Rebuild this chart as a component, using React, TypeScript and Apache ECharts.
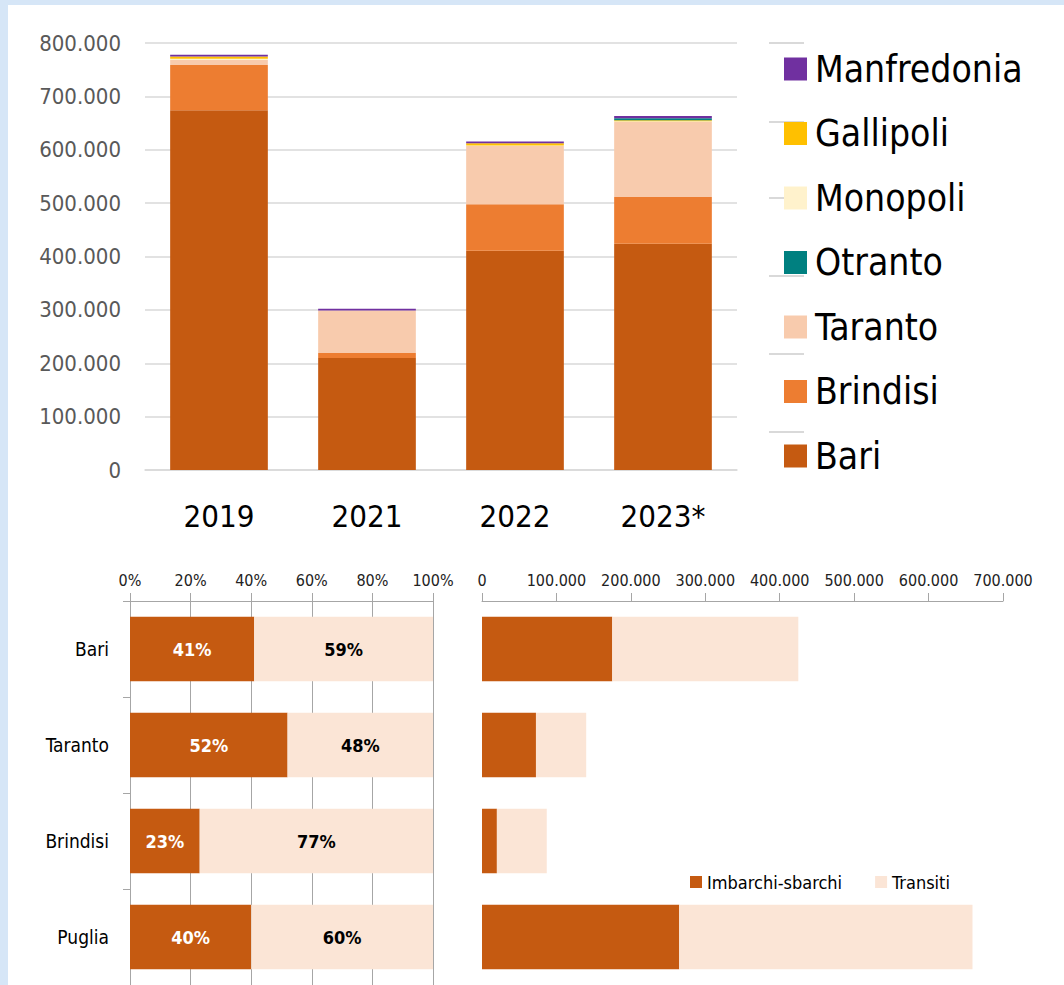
import React, { useEffect, useRef } from "react";
import * as echarts from "echarts";

// ---- Top chart data ----
const years = ["2019", "2021", "2022", "2023*"];
const bari = [674000, 210000, 411000, 424000];
const brindisi = [85000, 9000, 87000, 87500];
const taranto = [9000, 80000, 109000, 141000];
const monopoli = [2500, 0, 1000, 1000];
const gallipoli = [4000, 0, 4000, 2000];
const otranto = [0, 0, 0, 3500];
const manfredonia = [3500, 3000, 3500, 4000];
const topLegendOrder = ["Manfredonia", "Gallipoli", "Monopoli", "Otranto", "Taranto", "Brindisi", "Bari"];

// ---- Bottom charts data ----
const ports = ["Bari", "Taranto", "Brindisi", "Puglia"];
const pctImbarchi = [41, 52, 23, 40];
const pctTransiti = [59, 48, 77, 60];
const absImbarchi = [175000, 72500, 20000, 265000];
const absTransiti = [250000, 67500, 67000, 394000];

const FONT = "'Liberation Sans Narrow', 'Arial Narrow', 'DejaVu Sans Condensed', 'Liberation Sans', sans-serif";

const fmt = (v: number) => String(v).replace(/\B(?=(\d{3})+(?!\d))/g, ".");

const C = {
  bari: "#C55A11",
  brindisi: "#ED7D31",
  taranto: "#F8CBAD",
  otranto: "#008080",
  monopoli: "#FFF2CC",
  gallipoli: "#FFC000",
  manfredonia: "#7030A0",
  imb: "#C55A11",
  tra: "#FBE5D6",
};

export default function App() {
  const ref = useRef<HTMLDivElement>(null);
  useEffect(() => {
    if (!ref.current) return;
    const chart = echarts.init(ref.current, undefined, { renderer: "svg" });
    const topSeries = (name: string, data: number[], color: string) => ({
      name,
      type: "bar",
      stack: "top",
      xAxisIndex: 0,
      yAxisIndex: 0,
      barWidth: "66%",
      data,
      itemStyle: { color },
    });
    const shortLines = [43, 122, 198, 276, 354, 432].map((y) => ({
      type: "line",
      z: -1,
      shape: { x1: 769, y1: y, x2: 804, y2: y },
      style: { stroke: "#d9d9d9", lineWidth: 2 },
    }));
    const option: any = {
      animation: false,
      textStyle: { fontFamily: FONT },
      graphic: shortLines,
      legend: [
        {
          data: topLegendOrder,
          orient: "vertical",
          left: 784,
          top: 49,
          itemWidth: 23,
          itemHeight: 23,
          itemGap: 24.5,
          padding: 0,
          icon: "rect",
          textStyle: { fontSize: 37, color: "#000", fontFamily: FONT, lineHeight: 40, padding: [0, 0, 0, 3] },
        },
        {
          data: ["Imbarchi-sbarchi", "Transiti"],
          orient: "horizontal",
          left: 690,
          top: 873,
          itemWidth: 12,
          itemHeight: 12,
          itemGap: 33,
          padding: 0,
          icon: "rect",
          textStyle: { fontSize: 18, color: "#000", fontFamily: FONT },
        },
      ],
      grid: [
        { left: 145, top: 43, width: 592, height: 427 },
        { left: 130, top: 601, width: 303, height: 386 },
        { left: 482, top: 601, width: 521, height: 386 },
      ],
      xAxis: [
        {
          gridIndex: 0,
          type: "category",
          data: years,
          axisLine: { show: true, lineStyle: { color: "#d9d9d9", width: 1.5 } },
          axisTick: { show: false },
          axisLabel: { fontSize: 31, color: "#000", margin: 30, fontFamily: FONT },
        },
        {
          gridIndex: 1,
          type: "value",
          position: "top",
          min: 0,
          max: 100,
          interval: 20,
          axisLine: { show: true, lineStyle: { color: "#a6a6a6" } },
          axisTick: { show: true, length: 8, lineStyle: { color: "#a6a6a6" } },
          splitLine: { show: true, lineStyle: { color: "#a6a6a6", width: 1 } },
          axisLabel: { fontSize: 16, color: "#222", margin: 13, formatter: "{value}%", fontFamily: FONT },
        },
        {
          gridIndex: 2,
          type: "value",
          position: "top",
          min: 0,
          max: 700000,
          interval: 100000,
          axisLine: { show: true, lineStyle: { color: "#a6a6a6" } },
          axisTick: { show: true, length: 8, lineStyle: { color: "#a6a6a6" } },
          splitLine: { show: false },
          axisLabel: { fontSize: 16, color: "#222", margin: 13, formatter: (v: number) => fmt(v), fontFamily: FONT },
        },
      ],
      yAxis: [
        {
          gridIndex: 0,
          type: "value",
          min: 0,
          max: 800000,
          interval: 100000,
          axisLine: { show: false },
          axisTick: { show: false },
          splitLine: { show: true, lineStyle: { color: "#d9d9d9", width: 1.5 } },
          axisLabel: { fontSize: 22, color: "#595959", margin: 24, formatter: (v: number) => fmt(v), fontFamily: FONT },
        },
        {
          gridIndex: 1,
          type: "category",
          data: ports,
          inverse: true,
          axisLine: { show: true, lineStyle: { color: "#a6a6a6" } },
          axisTick: { show: true, length: 7, lineStyle: { color: "#a6a6a6" } },
          axisLabel: { fontSize: 19, color: "#000", margin: 21, fontFamily: FONT },
        },
        {
          gridIndex: 2,
          type: "category",
          data: ports,
          inverse: true,
          axisLine: { show: false },
          axisTick: { show: false },
          axisLabel: { show: false },
        },
      ],
      series: [
        topSeries("Bari", bari, C.bari),
        topSeries("Brindisi", brindisi, C.brindisi),
        topSeries("Taranto", taranto, C.taranto),
        topSeries("Monopoli", monopoli, C.monopoli),
        topSeries("Gallipoli", gallipoli, C.gallipoli),
        topSeries("Otranto", otranto, C.otranto),
        topSeries("Manfredonia", manfredonia, C.manfredonia),
        {
          name: "Imbarchi-sbarchi",
          type: "bar",
          stack: "pct",
          xAxisIndex: 1,
          yAxisIndex: 1,
          barWidth: "67%",
          data: pctImbarchi,
          itemStyle: { color: C.imb },
          label: {
            show: true,
            position: "inside",
            formatter: "{c}%",
            color: "#fff",
            fontWeight: "bold",
            fontSize: 18,
            fontFamily: FONT,
          },
        },
        {
          name: "Transiti",
          type: "bar",
          stack: "pct",
          xAxisIndex: 1,
          yAxisIndex: 1,
          barWidth: "67%",
          data: pctTransiti,
          itemStyle: { color: C.tra },
          label: {
            show: true,
            position: "inside",
            formatter: "{c}%",
            color: "#000",
            fontWeight: "bold",
            fontSize: 18,
            fontFamily: FONT,
          },
        },
        {
          name: "Imbarchi-sbarchi",
          type: "bar",
          stack: "abs",
          xAxisIndex: 2,
          yAxisIndex: 2,
          barWidth: "67%",
          data: absImbarchi,
          itemStyle: { color: C.imb },
        },
        {
          name: "Transiti",
          type: "bar",
          stack: "abs",
          xAxisIndex: 2,
          yAxisIndex: 2,
          barWidth: "67%",
          data: absTransiti,
          itemStyle: { color: C.tra },
        },
      ],
    };
    chart.setOption(option);
    return () => chart.dispose();
  }, []);

  return (
    <div style={{ position: "absolute", left: 0, top: 0, width: 1064, height: 985, background: "#D6E6F7", overflow: "hidden" }}>
      <div style={{ position: "absolute", left: 8, top: 5, width: 1056, height: 980, background: "#fff" }} />
      <div ref={ref} style={{ position: "absolute", left: 0, top: 0, width: 1064, height: 985 }} />
    </div>
  );
}
